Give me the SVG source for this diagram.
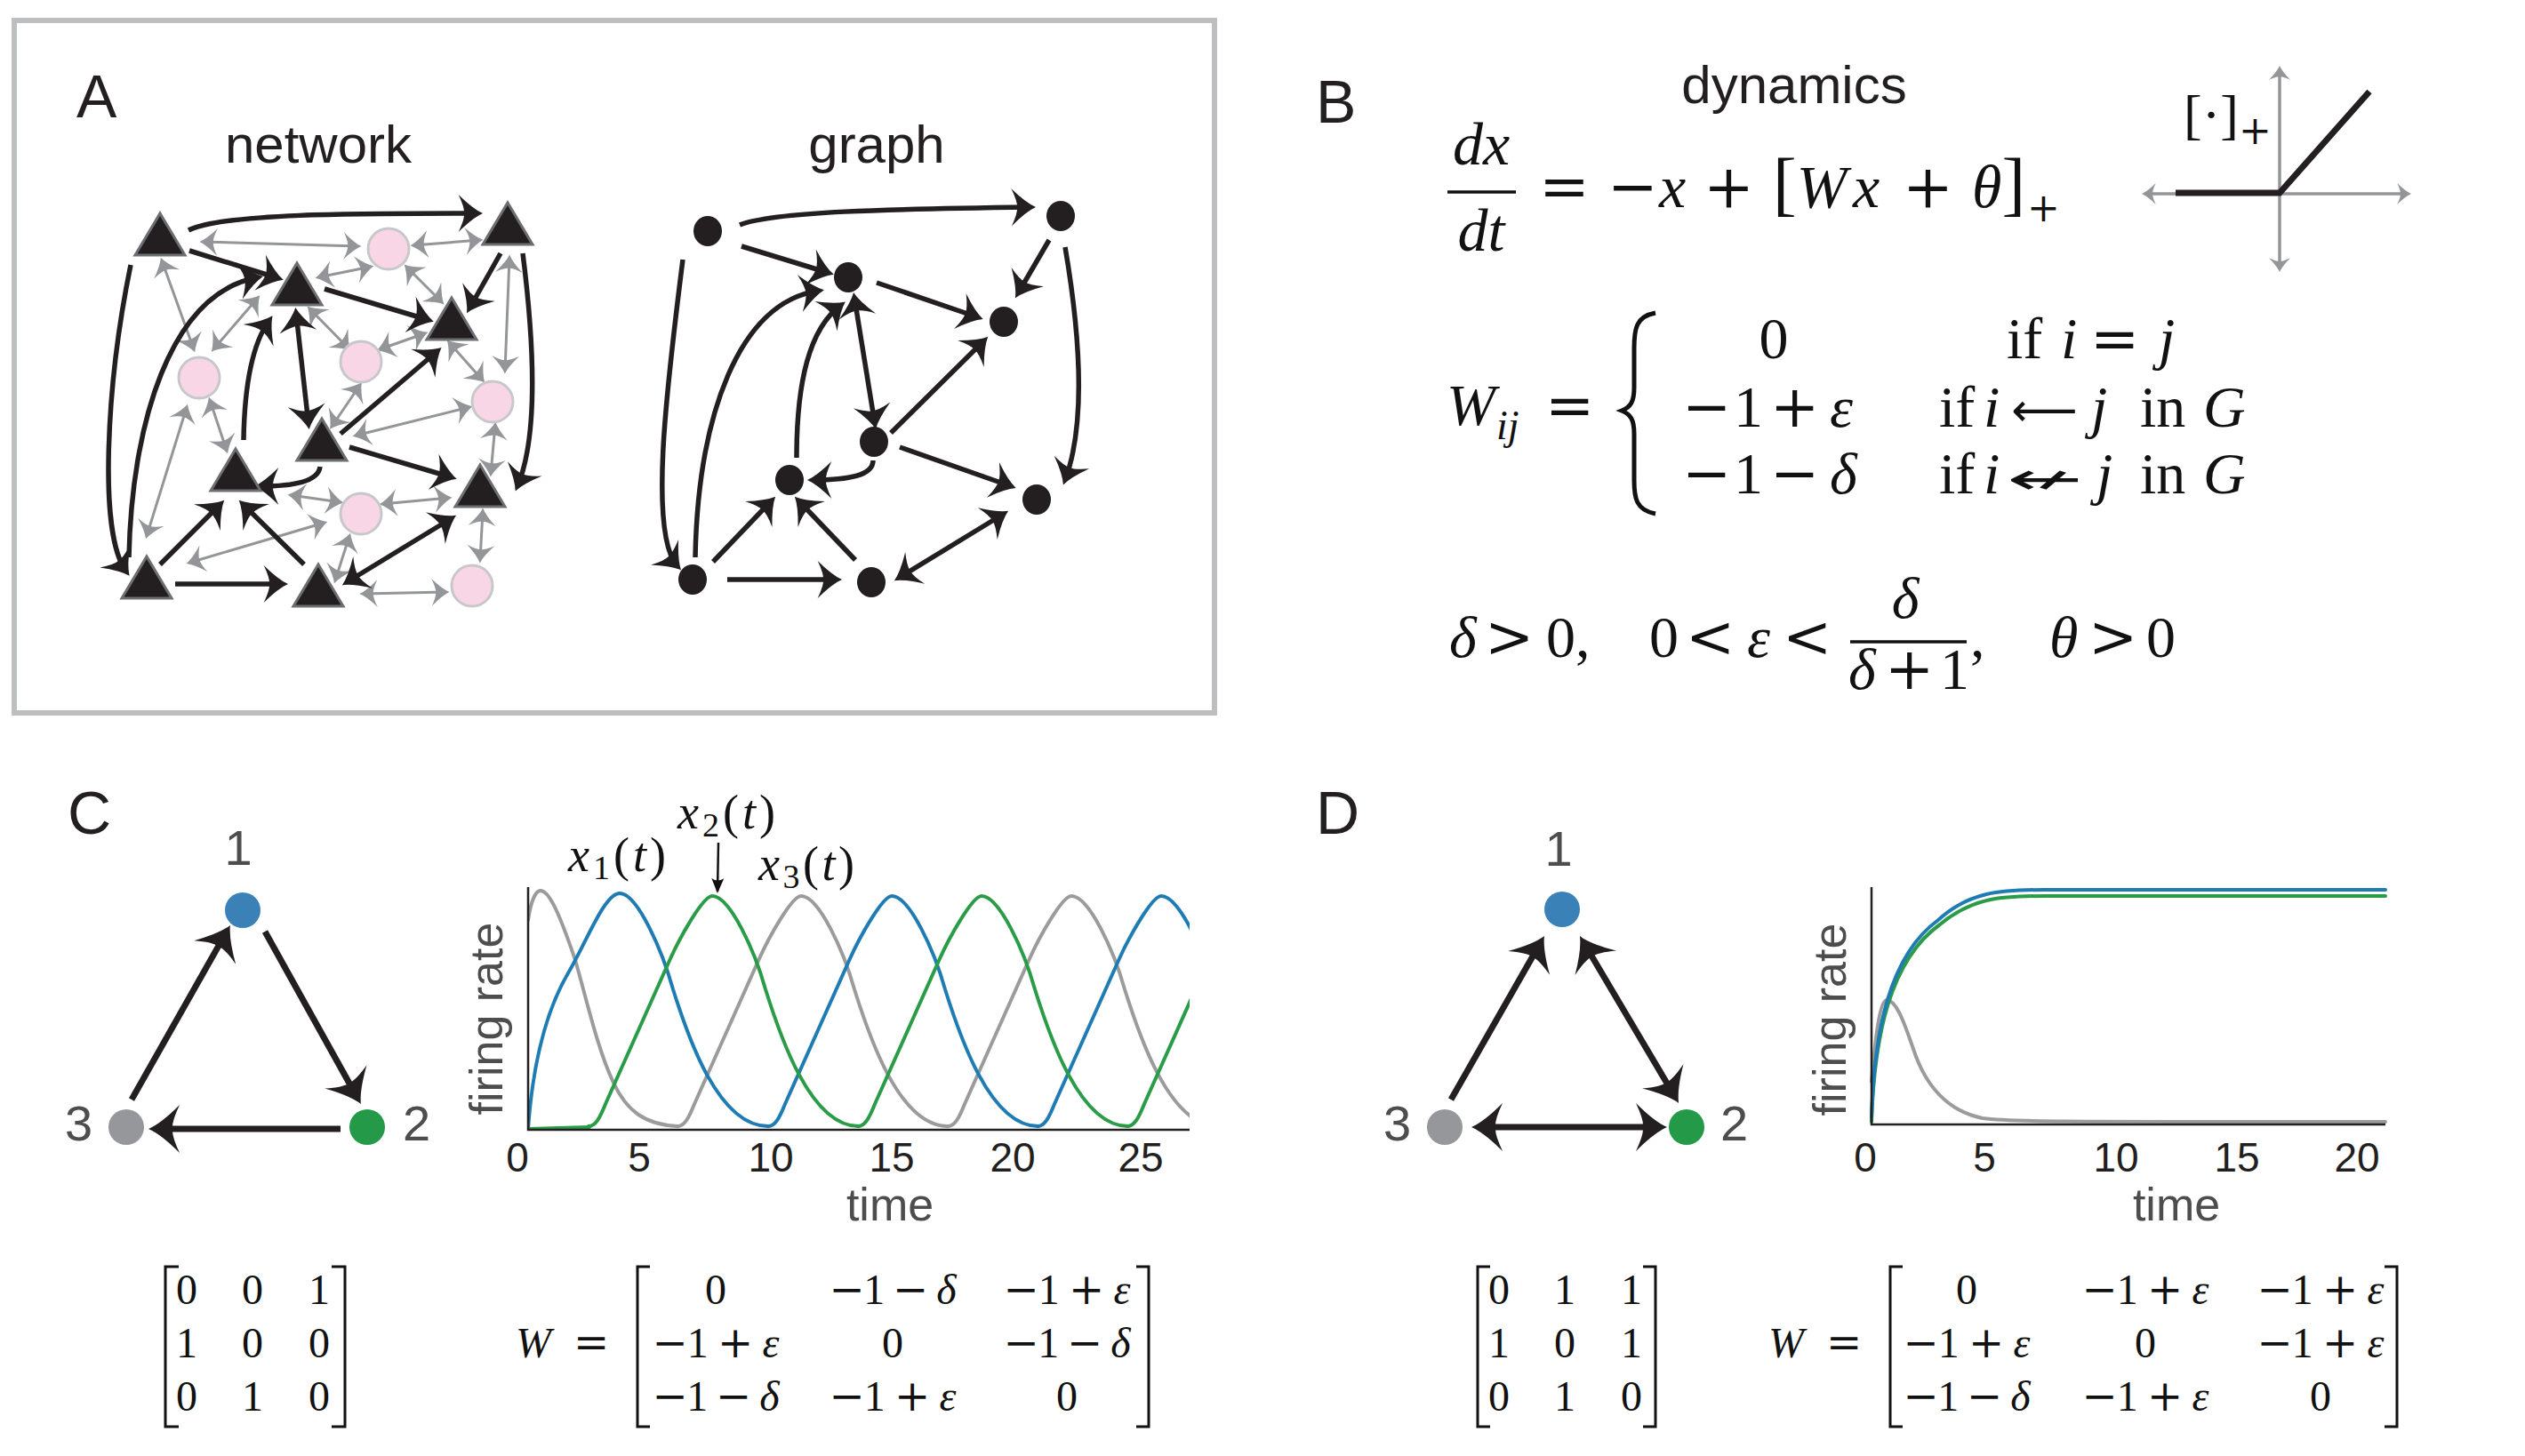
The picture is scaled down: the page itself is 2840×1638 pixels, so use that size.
<svg xmlns="http://www.w3.org/2000/svg" width="2840" height="1638" viewBox="0 0 2840 1638">
<style>
.sans{font-family:"Liberation Sans",Arial,Helvetica,sans-serif;fill:#231f20}
.pl{font-size:68px}
.ttl{font-size:60px}
.num{font-size:56px;fill:#4d4d4d}
.tick{font-size:46px}
.axl{font-size:52px;fill:#4d4d4d}
.m{font-family:"Liberation Serif","DejaVu Serif","Times New Roman",serif;fill:#111}
.i{font-style:italic}
.op{font-family:"DejaVu Serif","DejaVu Sans",serif;font-style:normal}
.arw{font-family:"DejaVu Sans",sans-serif;fill:#111}
.bk{fill:none;stroke:#231f20;stroke-width:5.5;marker-end:url(#hM)}
.dbl{marker-start:url(#hM)}
.gr{fill:none;stroke:#939598;stroke-width:3;marker-start:url(#hG);marker-end:url(#hG)}
.cd{fill:none;stroke:#231f20;stroke-width:7;marker-end:url(#hB)}
.cd2{marker-start:url(#hB)}
.tri{fill:#231f20;stroke:#6d6e71;stroke-width:3}
.pk{fill:#f9d6e6;stroke:#c7c8ca;stroke-width:3}
.gn{fill:#231f20}
.crv{fill:none;stroke-width:4;stroke-linejoin:round;stroke-linecap:round}
.brk{fill:none;stroke:#111;stroke-width:3}
.ax{fill:none;stroke:#231f20;stroke-width:2.5}
</style>
<defs>
<marker id="hB" markerUnits="userSpaceOnUse" orient="auto-start-reverse" viewBox="-30 -30 42 60" markerWidth="42" markerHeight="60" refX="0" refY="0">
<path d="M0,0 Q-14,-6 -35,-27 Q-26,-8 -27,0 Q-26,8 -35,27 Q-14,6 0,0 Z" transform="translate(8,0)" fill="#231f20"/>
</marker>
<marker id="hM" markerUnits="userSpaceOnUse" orient="auto-start-reverse" viewBox="-24 -24 34 48" markerWidth="34" markerHeight="48" refX="0" refY="0">
<path d="M0,0 Q-10.9,-4.7 -27.3,-21 Q-20.3,-6.2 -21,0 Q-20.3,6.2 -27.3,21 Q-10.9,4.7 0,0 Z" transform="translate(6,0)" fill="#231f20"/>
</marker>
<marker id="hG" markerUnits="userSpaceOnUse" orient="auto-start-reverse" viewBox="-18 -18 26 36" markerWidth="26" markerHeight="36" refX="0" refY="0">
<path d="M0,0 Q-8,-3.4 -20,-15.4 Q-14.8,-4.6 -15.4,0 Q-14.8,4.6 -20,15.4 Q-8,3.4 0,0 Z" transform="translate(3.5,0)" fill="#939598"/>
</marker>
<marker id="hA" markerUnits="userSpaceOnUse" orient="auto-start-reverse" viewBox="-16 -14 22 28" markerWidth="22" markerHeight="28" refX="0" refY="0">
<path d="M0,0 Q-6.3,-2.7 -15.8,-12 Q-11.7,-3.6 -12.2,0 Q-11.7,3.6 -15.8,12 Q-6.3,2.7 0,0 Z" transform="translate(3,0)" fill="#939598"/>
</marker>
<marker id="hS" markerUnits="userSpaceOnUse" orient="auto" viewBox="-18 -9 22 18" markerWidth="22" markerHeight="18" refX="0" refY="0">
<path d="M0,0 L-17,-7 Q-12,0 -17,7 Z" transform="translate(2,0)" fill="#111"/>
</marker>
<path id="tri" d="M0,-31 L28,16 L-28,16 Z"/>
<path id="pulse" fill="none" d="M-139,259 C-131,259 -126,249 -120,234 L-47.7,72 C-35.7,45 -10,0 0,0 C20,0 48,62 60,105 C76,156 110,259 164.7,259"/>
<clipPath id="clipC"><rect x="594" y="985" width="744" height="290"/></clipPath>
</defs>

<rect width="2840" height="1638" fill="#fff"/>

<!-- Panel A -->
<rect x="16" y="23" width="1350" height="779" fill="none" stroke="#bcbec0" stroke-width="6"/>
<text class="sans pl" x="86" y="132">A</text>
<text class="sans ttl" x="358" y="183" text-anchor="middle">network</text>
<text class="sans ttl" x="986" y="183" text-anchor="middle">graph</text>

<g id="connectors">
<g id="net-gray">
<path class="gr" d="M228,272 L403,277"/>
<path class="gr" d="M465,276 L540,270"/>
<path class="gr" d="M358,312 L417,300"/>
<path class="gr" d="M457,300 L497,340"/>
<path class="gr" d="M182,293 L218,393"/>
<path class="gr" d="M290,335 L240,393"/>
<path class="gr" d="M348,347 L392,392"/>
<path class="gr" d="M427,393 L478,375"/>
<path class="gr" d="M573,290 L568,417"/>
<path class="gr" d="M505,385 L543,428"/>
<path class="gr" d="M405,433 L373,480"/>
<path class="gr" d="M400,490 L528,458"/>
<path class="gr" d="M236,450 L255,507"/>
<path class="gr" d="M210,458 L165,603"/>
<path class="gr" d="M557,478 L552,533"/>
<path class="gr" d="M327,557 L383,565"/>
<path class="gr" d="M430,567 L505,560"/>
<path class="gr" d="M213,633 L365,588"/>
<path class="gr" d="M393,603 L377,653"/>
<path class="gr" d="M543,575 L540,630"/>
<path class="gr" d="M408,668 L502,666"/>
</g>
<g id="net-black">
<path class="bk" d="M212,259 C250,240 400,240 537,240"/>
<path class="bk" d="M213,282 L313,313"/>
<path class="bk" d="M147,298 C120,430 110,600 142,643"/>
<path class="bk" d="M145,627 C148,480 190,330 290,312"/>
<path class="bk" d="M274,495 C275,430 285,385 303,360"/>
<path class="bk dbl" d="M333,352 L347,477"/>
<path class="bk" d="M365,325 L482,360"/>
<path class="bk" d="M563,285 L528,347"/>
<path class="bk" d="M588,285 C600,380 606,490 582,547"/>
<path class="bk" d="M383,488 L492,395"/>
<path class="bk" d="M393,503 L508,537"/>
<path class="bk" d="M360,525 C358,542 330,547 292,547"/>
<path class="bk" d="M180,635 L248,567"/>
<path class="bk" d="M342,635 L273,567"/>
<path class="bk" d="M197,657 L318,657"/>
<path class="bk dbl" d="M390,655 L508,583"/>
</g>
<g id="graph-edges">
<path class="bk" d="M832,253 C870,238 1000,235 1159,233"/>
<path class="bk" d="M834,277 L932,307"/>
<path class="bk" d="M768,292 C752,420 728,600 762,637"/>
<path class="bk" d="M782,627 C785,470 830,340 921,327"/>
<path class="bk" d="M896,515 C896,430 910,370 946,343"/>
<path class="bk dbl" d="M961,335 L984,477"/>
<path class="bk" d="M986,318 L1100,357"/>
<path class="bk" d="M1180,270 L1145,330"/>
<path class="bk" d="M1198,278 C1212,360 1224,470 1198,540"/>
<path class="bk" d="M1002,487 L1107,383"/>
<path class="bk" d="M1012,503 L1137,547"/>
<path class="bk" d="M982,518 C982,535 955,540 914,540"/>
<path class="bk" d="M802,632 L868,563"/>
<path class="bk" d="M962,630 L898,563"/>
<path class="bk" d="M818,652 L941,652"/>
<path class="bk dbl" d="M1011,650 L1129,578"/>
</g>
<g id="tri-C-edges">
<path class="cd" d="M298,1048 L402,1235"/>
<path class="cd" d="M383,1270 L175,1270"/>
<path class="cd" d="M148,1237 L255,1048"/>
</g>
<g id="tri-D-edges">
<path class="cd" d="M1632,1237 L1733,1060"/>
<path class="cd cd2" d="M1781,1060 L1884,1234"/>
<path class="cd cd2" d="M1663,1268 L1867,1268"/>
</g>
</g>

<g id="network-nodes">
<g id="net-t1"><use href="#tri" class="tri" transform="translate(180,271)"/></g>
<g id="net-t2"><use href="#tri" class="tri" transform="translate(571,259)"/></g>
<g id="net-t3"><use href="#tri" class="tri" transform="translate(334,327)"/></g>
<g id="net-t4"><use href="#tri" class="tri" transform="translate(508,366)"/></g>
<g id="net-t5"><use href="#tri" class="tri" transform="translate(362,502)"/></g>
<g id="net-t6"><use href="#tri" class="tri" transform="translate(265,536)"/></g>
<g id="net-t7"><use href="#tri" class="tri" transform="translate(540,554)"/></g>
<g id="net-t8"><use href="#tri" class="tri" transform="translate(165,657)"/></g>
<g id="net-t9"><use href="#tri" class="tri" transform="translate(358,666)"/></g>
<g id="net-c1"><circle class="pk" cx="437" cy="280" r="23"/></g>
<g id="net-c2"><circle class="pk" cx="224" cy="425" r="23"/></g>
<g id="net-c3"><circle class="pk" cx="406" cy="407" r="23"/></g>
<g id="net-c4"><circle class="pk" cx="554" cy="452" r="23"/></g>
<g id="net-c5"><circle class="pk" cx="406" cy="578" r="23"/></g>
<g id="net-c6"><circle class="pk" cx="531" cy="659" r="23"/></g>
</g>

<g id="graph-nodes">
<g id="g1"><ellipse class="gn" cx="796" cy="260" rx="16" ry="17"/></g>
<g id="g2"><ellipse class="gn" cx="1193" cy="243" rx="16" ry="17"/></g>
<g id="g3"><ellipse class="gn" cx="954" cy="312" rx="16" ry="17"/></g>
<g id="g4"><ellipse class="gn" cx="1129" cy="362" rx="16" ry="17"/></g>
<g id="g5"><ellipse class="gn" cx="983" cy="497" rx="16" ry="17"/></g>
<g id="g6"><ellipse class="gn" cx="888" cy="540" rx="16" ry="17"/></g>
<g id="g7"><ellipse class="gn" cx="1166" cy="562" rx="16" ry="17"/></g>
<g id="g8"><ellipse class="gn" cx="779" cy="652" rx="16" ry="17"/></g>
<g id="g9"><ellipse class="gn" cx="980" cy="655" rx="16" ry="17"/></g>
</g>

<!-- Panel B -->
<text class="sans pl" x="1480" y="138">B</text>
<text class="sans ttl" x="2018" y="116" text-anchor="middle">dynamics</text>
<g id="eq-dxdt">
<text x="1666" y="185" font-size="68" text-anchor="middle" class="m i">dx</text>
<line x1="1628" y1="216" x2="1705" y2="216" stroke="#111" stroke-width="3.5"/>
<text x="1666" y="282" font-size="68" text-anchor="middle" class="m i">dt</text>
<text class="m" y="233" font-size="68"><tspan x="1731" class="op">=</tspan><tspan x="1808" class="op">−</tspan><tspan x="1866" class="i">x</tspan><tspan x="1916" class="op">+</tspan><tspan x="1994" font-size="80">[</tspan><tspan class="i">W</tspan><tspan x="2084" class="i">x</tspan><tspan x="2140" class="op">+</tspan><tspan x="2218" class="i">θ</tspan><tspan font-size="80">]</tspan><tspan dx="2" dy="16" class="op" font-size="44">+</tspan></text>
</g>
<g id="relu">
<path d="M2412,218 H2709" fill="none" stroke="#939598" stroke-width="3.5" marker-start="url(#hA)" marker-end="url(#hA)"/>
<path d="M2564,77 V303" fill="none" stroke="#939598" stroke-width="3.5" marker-start="url(#hA)" marker-end="url(#hA)"/>
<path d="M2447,217 H2564 L2665,103" fill="none" stroke="#231f20" stroke-width="7"/>
<text class="m" x="2456" y="150" font-size="62">[·]<tspan dy="12" class="op" font-size="44">+</tspan></text>
</g>
<g id="eq-W">
<text class="m" y="478" font-size="66"><tspan x="1627" class="i">W</tspan><tspan x="1683" dy="16" class="i" font-size="46">ij</tspan><tspan x="1738" dy="-16" class="op">=</tspan></text>
<path d="M1862,352 C1840,356 1838,370 1838,392 L1838,436 C1838,452 1834,458 1824,462 C1834,466 1838,472 1838,488 L1838,540 C1838,560 1840,574 1862,578" fill="none" stroke="#111" stroke-width="5"/>
<text class="m" x="1995" y="403" font-size="66" text-anchor="middle">0</text>
<text class="m" y="403" font-size="66"><tspan x="2257">if</tspan><tspan x="2318" class="i">i</tspan><tspan x="2351" class="op">=</tspan><tspan x="2428" class="i">j</tspan></text>
<text class="m" y="480" font-size="66"><tspan x="1892" class="op">−</tspan><tspan x="1950">1</tspan><tspan x="1991" class="op">+</tspan><tspan x="2058" class="i">ε</tspan></text>
<text class="m" y="480" font-size="66"><tspan x="2181">if</tspan><tspan x="2231" class="i">i</tspan></text>
<text class="arw" x="2262" y="479" font-size="52">⟵</text>
<text class="m" y="480" font-size="66"><tspan x="2352" class="i">j</tspan><tspan x="2407">in</tspan><tspan x="2478" class="i">G</tspan></text>
<text class="m" y="555" font-size="66"><tspan x="1892" class="op">−</tspan><tspan x="1950">1</tspan><tspan x="1991" class="op">−</tspan><tspan x="2058" class="i">δ</tspan></text>
<text class="m" y="555" font-size="66"><tspan x="2181">if</tspan><tspan x="2231" class="i">i</tspan></text>
<text class="arw" font-size="50" transform="translate(2257,556) scale(2.05,1)">↚</text>
<text class="m" y="555" font-size="66"><tspan x="2358" class="i">j</tspan><tspan x="2407">in</tspan><tspan x="2478" class="i">G</tspan></text>
</g>
<g id="eq-constraints">
<text class="m" y="739" font-size="66"><tspan x="1630" class="i">δ</tspan><tspan x="1670" class="op">&gt;</tspan><tspan x="1739">0,</tspan><tspan x="1855">0</tspan><tspan x="1896" class="op">&lt;</tspan><tspan x="1965" class="i">ε</tspan><tspan x="2005" class="op">&lt;</tspan><tspan x="2216">,</tspan><tspan x="2305" class="i">θ</tspan><tspan x="2349" class="op">&gt;</tspan><tspan x="2414">0</tspan></text>
<text class="m i" x="2143" y="695" font-size="66" text-anchor="middle">δ</text>
<line x1="2081" y1="722" x2="2212" y2="722" stroke="#111" stroke-width="3.5"/>
<text class="m" y="775" font-size="66"><tspan x="2079" class="i">δ</tspan><tspan x="2120" class="op">+</tspan><tspan x="2182">1</tspan></text>
</g>

<!-- Panel C -->
<text class="sans pl" x="76" y="938">C</text>
<g id="c-n1"><circle cx="273" cy="1024" r="20" fill="#3a81b7"/><text class="sans num" x="268" y="973" text-anchor="middle">1</text></g>
<g id="c-n2"><circle cx="413" cy="1268" r="20" fill="#249a49"/><text class="sans num" x="453" y="1283">2</text></g>
<g id="c-n3"><circle cx="142" cy="1268" r="20" fill="#96979b"/><text class="sans num" x="73" y="1283">3</text></g>

<g id="c-plot">
<g clip-path="url(#clipC)">
<path class="crv" stroke="#9b9b9b" d="M594,1035 C597,1015 602,1002 608,1002 C618,1002 630,1030 647,1080 C660,1125 672,1180 690,1218 C705,1250 725,1265 762,1267"/>
<use href="#pulse" class="crv" stroke="#9b9b9b" transform="translate(901,1008)"/>
<use href="#pulse" class="crv" stroke="#9b9b9b" transform="translate(1205,1008)"/>
<path class="crv" stroke="#1f7bb3" d="M594,1270 C599,1200 612,1140 640,1093 C660,1059 680,1005 697,1005 C717,1005 745,1070 757,1113 C773,1164 807,1267 864,1267"/>
<use href="#pulse" class="crv" stroke="#1f7bb3" transform="translate(1003,1008)"/>
<use href="#pulse" class="crv" stroke="#1f7bb3" transform="translate(1306,1008)"/>
<path class="crv" stroke="#2a9b47" d="M594,1270 L663,1268"/>
<use href="#pulse" class="crv" stroke="#2a9b47" transform="translate(801,1008)"/>
<use href="#pulse" class="crv" stroke="#2a9b47" transform="translate(1104,1008)"/>
<use href="#pulse" class="crv" stroke="#2a9b47" transform="translate(1407,1008)"/>
</g>
<path class="ax" d="M594,998 V1271 H1338"/>
<g class="sans tick" text-anchor="middle">
<text x="582" y="1318">0</text><text x="719" y="1318">5</text><text x="867" y="1318">10</text><text x="1003" y="1318">15</text><text x="1139" y="1318">20</text><text x="1283" y="1318">25</text>
</g>
<text class="sans axl" x="1001" y="1373" text-anchor="middle">time</text>
<text class="sans axl" transform="translate(565,1146) rotate(-90)" text-anchor="middle">firing rate</text>
<text class="m" x="639" y="980" font-size="54" textLength="110"><tspan class="i">x</tspan><tspan font-size="38" dy="9">1</tspan><tspan dy="-9">(</tspan><tspan class="i">t</tspan>)</text>
<text class="m" x="762" y="932" font-size="54" textLength="110"><tspan class="i">x</tspan><tspan font-size="38" dy="9">2</tspan><tspan dy="-9">(</tspan><tspan class="i">t</tspan>)</text>
<text class="m" x="853" y="990" font-size="54" textLength="108"><tspan class="i">x</tspan><tspan font-size="38" dy="9">3</tspan><tspan dy="-9">(</tspan><tspan class="i">t</tspan>)</text>
<path d="M808,948 L807,1003" stroke="#111" stroke-width="2.5" fill="none" marker-end="url(#hS)"/>
</g>

<g id="c-matrices" class="m" font-size="48">
<path class="brk" d="M201,1425 H186 V1605 H201 M373,1425 H388 V1605 H373"/>
<g text-anchor="middle">
<text x="210" y="1467">0</text><text x="284" y="1467">0</text><text x="359" y="1467">1</text>
<text x="210" y="1527">1</text><text x="284" y="1527">0</text><text x="359" y="1527">0</text>
<text x="210" y="1587">0</text><text x="284" y="1587">1</text><text x="359" y="1587">0</text>
</g>
<text y="1527"><tspan x="580" class="i">W</tspan><tspan x="645" class="op">=</tspan></text>
<path class="brk" d="M731,1425 H717 V1605 H731 M1278,1425 H1292 V1605 H1278"/>
<g text-anchor="middle">
<text x="805" y="1467">0</text>
<text x="1004" y="1467" textLength="143"><tspan class="op">−</tspan>1 <tspan class="op">−</tspan> <tspan class="i">δ</tspan></text>
<text x="1200" y="1467" textLength="143"><tspan class="op">−</tspan>1 <tspan class="op">+</tspan> <tspan class="i">ε</tspan></text>
<text x="805" y="1527" textLength="143"><tspan class="op">−</tspan>1 <tspan class="op">+</tspan> <tspan class="i">ε</tspan></text>
<text x="1004" y="1527">0</text>
<text x="1200" y="1527" textLength="143"><tspan class="op">−</tspan>1 <tspan class="op">−</tspan> <tspan class="i">δ</tspan></text>
<text x="805" y="1587" textLength="143"><tspan class="op">−</tspan>1 <tspan class="op">−</tspan> <tspan class="i">δ</tspan></text>
<text x="1004" y="1587" textLength="143"><tspan class="op">−</tspan>1 <tspan class="op">+</tspan> <tspan class="i">ε</tspan></text>
<text x="1200" y="1587">0</text>
</g>
</g>

<!-- Panel D -->
<text class="sans pl" x="1480" y="938">D</text>
<g id="d-n1"><circle cx="1757" cy="1023" r="20" fill="#3a81b7"/><text class="sans num" x="1753" y="974" text-anchor="middle">1</text></g>
<g id="d-n2"><circle cx="1897" cy="1268" r="20" fill="#249a49"/><text class="sans num" x="1935" y="1283">2</text></g>
<g id="d-n3"><circle cx="1625" cy="1268" r="20" fill="#96979b"/><text class="sans num" x="1556" y="1283">3</text></g>

<g id="d-plot">
<path class="crv" stroke="#9b9b9b" d="M2105,1217 C2110,1160 2115,1125 2122,1125 C2132,1125 2140,1145 2152,1180 C2165,1220 2190,1250 2230,1258 C2260,1262 2300,1262 2683,1262"/>
<path class="crv" stroke="#2a9b47" stroke-width="5" d="M2105,1262 C2108,1165 2126,1080 2182,1040 C2218,1010 2250,1008 2300,1008 L2683,1008"/>
<path class="crv" stroke="#1f7bb3" stroke-width="5" d="M2105,1257 C2108,1160 2125,1075 2180,1035 C2215,1003 2250,1001 2300,1001 L2683,1001"/>
<path class="ax" d="M2105,998 V1265 H2683"/>
<g class="sans tick" text-anchor="middle">
<text x="2098" y="1318">0</text><text x="2232" y="1318">5</text><text x="2380" y="1318">10</text><text x="2516" y="1318">15</text><text x="2651" y="1318">20</text>
</g>
<text class="sans axl" x="2448" y="1373" text-anchor="middle">time</text>
<text class="sans axl" transform="translate(2076,1147) rotate(-90)" text-anchor="middle">firing rate</text>
</g>

<g id="d-matrices" class="m" font-size="48">
<path class="brk" d="M1676,1425 H1662 V1605 H1676 M1848,1425 H1862 V1605 H1848"/>
<g text-anchor="middle">
<text x="1686" y="1467">0</text><text x="1760" y="1467">1</text><text x="1835" y="1467">1</text>
<text x="1686" y="1527">1</text><text x="1760" y="1527">0</text><text x="1835" y="1527">1</text>
<text x="1686" y="1587">0</text><text x="1760" y="1587">1</text><text x="1835" y="1587">0</text>
</g>
<text y="1527"><tspan x="1989" class="i">W</tspan><tspan x="2054" class="op">=</tspan></text>
<path class="brk" d="M2140,1425 H2126 V1605 H2140 M2682,1425 H2696 V1605 H2682"/>
<g text-anchor="middle">
<text x="2212" y="1467">0</text>
<text x="2413" y="1467" textLength="143"><tspan class="op">−</tspan>1 <tspan class="op">+</tspan> <tspan class="i">ε</tspan></text>
<text x="2610" y="1467" textLength="143"><tspan class="op">−</tspan>1 <tspan class="op">+</tspan> <tspan class="i">ε</tspan></text>
<text x="2212" y="1527" textLength="143"><tspan class="op">−</tspan>1 <tspan class="op">+</tspan> <tspan class="i">ε</tspan></text>
<text x="2413" y="1527">0</text>
<text x="2610" y="1527" textLength="143"><tspan class="op">−</tspan>1 <tspan class="op">+</tspan> <tspan class="i">ε</tspan></text>
<text x="2212" y="1587" textLength="143"><tspan class="op">−</tspan>1 <tspan class="op">−</tspan> <tspan class="i">δ</tspan></text>
<text x="2413" y="1587" textLength="143"><tspan class="op">−</tspan>1 <tspan class="op">+</tspan> <tspan class="i">ε</tspan></text>
<text x="2610" y="1587">0</text>
</g>
</g>
</svg>
